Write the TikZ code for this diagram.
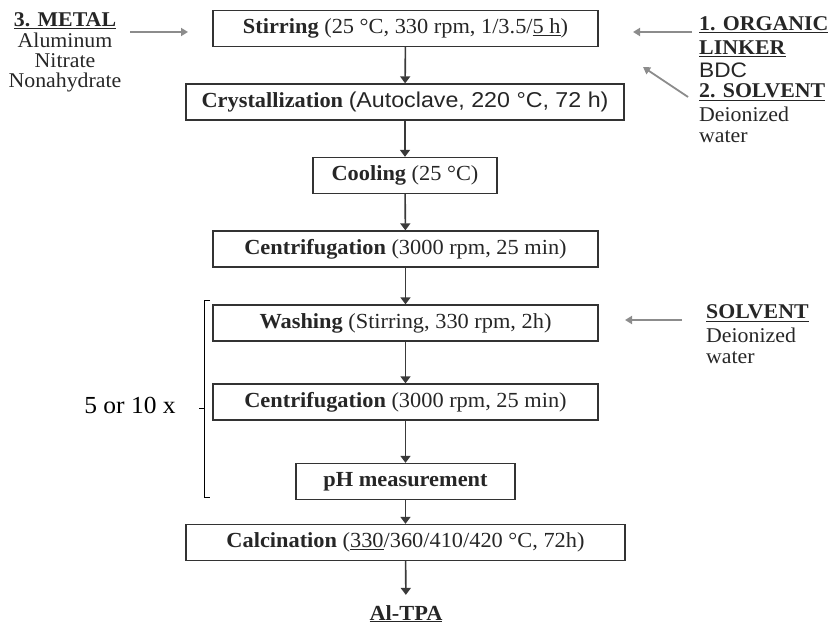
\documentclass[tikz,border=0pt]{standalone}
\usepackage{fontspec}
\setmainfont{Liberation Serif}[FakeStretch=1.04]
\newfontfamily\arialf{Liberation Sans}[FakeStretch=1.08]
\usetikzlibrary{arrows.meta}
\definecolor{boxc}{HTML}{333333}
\definecolor{arrc}{HTML}{3A3A3A}
\definecolor{feedc}{HTML}{8C8C8C}
\definecolor{txtc}{HTML}{262626}
\begin{document}
\begin{tikzpicture}[x=1pt,y=-1pt,
  box/.style={draw=boxc, line width=1.3pt, minimum height=36pt, inner sep=0pt,
    font=\fontsize{21.5}{24}\selectfont, text=txtc},
  flow/.style={draw=arrc, line width=1.6pt, -{Triangle[width=10pt,length=7pt]}},
  feed/.style={draw=feedc, line width=1.8pt, -{Triangle[width=8pt,length=7pt]}, color=feedc},
  lbl/.style={inner sep=0pt, font=\fontsize{21}{24}\selectfont, text=txtc}]
\useasboundingbox (0,0) rectangle (835,628);

% process boxes
\node[box, minimum width=385pt] (stir) at (405.5,28.5)
  {\textbf{Stirring} (25 °C, 330 rpm, 1/3.5/\underline{5 h})};
\node[box, minimum width=438pt] (cryst) at (405,102)
  {\textbf{Crystallization} {\arialf (Autoclave, 220 °C, 72 h)}};
\node[box, minimum width=184pt] (cool) at (405,175.5)
  {\textbf{Cooling} (25 °C)};
\node[box, minimum width=385pt] (cent1) at (405.5,249)
  {\textbf{Centrifugation} (3000 rpm, 25 min)};
\node[box, minimum width=385pt] (wash) at (405.5,323)
  {\textbf{Washing} (Stirring, 330 rpm, 2h)};
\node[box, minimum width=385pt] (cent2) at (405.5,402)
  {\textbf{Centrifugation} (3000 rpm, 25 min)};
\node[box, minimum width=219pt] (ph) at (405.5,481.5)
  {\textbf{pH measurement}};
\node[box, minimum width=439pt] (calc) at (405.5,542.5)
  {\textbf{Calcination} (\underline{330}/360/410/420 °C, 72h)};
\node[lbl, anchor=base, font=\fontsize{21.5}{24}\selectfont] (altpa) at (406,620) {\underline{\textbf{Al-TPA}}};

% flow arrows
\draw[flow] (stir) -- (cryst);
\draw[flow] (cryst) -- (cool);
\draw[flow] (cool) -- (cent1);
\draw[flow] (cent1) -- (wash);
\draw[flow] (wash) -- (cent2);
\draw[flow] (cent2) -- (ph);
\draw[flow] (ph) -- (calc);
\draw[flow, shorten >=10pt] (calc) -- (altpa);

% left: metal
\node[lbl, anchor=base] (m1) at (65,27) {\underline{\textbf{3. METAL}}};
\node[lbl, anchor=base] (m2) at (65,48) {Aluminum};
\node[lbl, anchor=base] (m3) at (65,68) {Nitrate};
\node[lbl, anchor=base] (m4) at (65,88) {Nonahydrate};
\coordinate (ml) at (130,32);
\coordinate (mr) at (188,32);
\draw[feed] (ml) -- (mr);

% right: organic linker and solvent
\node[lbl, anchor=base west] (r1) at (699,31) {\underline{\textbf{1. ORGANIC}}};
\node[lbl, anchor=base west] (r2) at (699,55) {\underline{\textbf{LINKER}}};
\node[lbl, anchor=base west] (r3) at (699,78) {{\arialf BDC}};
\node[lbl, anchor=base west] (r4) at (699,98) {\underline{\textbf{2. SOLVENT}}};
\node[lbl, anchor=base west] (r5) at (699,122) {Deionized};
\node[lbl, anchor=base west] (r6) at (699,143) {water};
\coordinate (a1s) at (692,32);
\coordinate (a1e) at (633,32);
\draw[feed] (a1s) -- (a1e);
\coordinate (a2s) at (688,97);
\coordinate (a2e) at (643,67);
\draw[feed] (a2s) -- (a2e);

% right: washing solvent
\node[lbl, anchor=base west] (s1) at (706,319) {\underline{\textbf{SOLVENT}}};
\node[lbl, anchor=base west] (s2) at (706,342) {Deionized};
\node[lbl, anchor=base west] (s3) at (706,363) {water};
\coordinate (a3s) at (682,320);
\coordinate (a3e) at (625,320);
\draw[feed] (a3s) -- (a3e);

% bracket
\draw[line width=1pt, black] (210,300) -- (204,300) -- (204,497) -- (210,497);
\draw[line width=1pt, black] (204,408) -- (199,408);
\node[inner sep=0pt, anchor=base, font=\fontsize{24.5}{28}\selectfont] (rep) at (130,413) {5 or 10 x};
\end{tikzpicture}
\end{document}
